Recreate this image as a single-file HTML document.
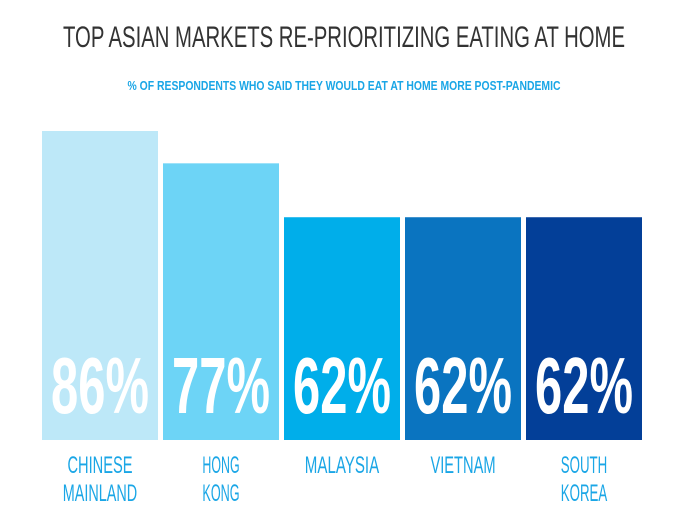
<!DOCTYPE html>
<html><head><meta charset="utf-8"><style>
body{margin:0;background:#fff;}
svg{display:block;font-family:"Liberation Sans",sans-serif;}
</style></head><body>
<svg id="chart" width="680" height="517" viewBox="0 0 680 517">
<text x="344" y="47" text-anchor="middle" font-size="30" fill="#333" textLength="562" lengthAdjust="spacingAndGlyphs">TOP ASIAN MARKETS RE-PRIORITIZING EATING AT HOME</text>
<text x="344" y="90" text-anchor="middle" font-size="13" font-weight="bold" fill="#1aa6e6" textLength="433" lengthAdjust="spacingAndGlyphs">% OF RESPONDENTS WHO SAID THEY WOULD EAT AT HOME MORE POST-PANDEMIC</text>
<g id="bars"></g>
</svg>
<script>
const categories = [["CHINESE","MAINLAND"],["HONG","KONG"],["MALAYSIA"],["VIETNAM"],["SOUTH","KOREA"]];
const values = [86, 77, 62, 62, 62];
const valueLabels = ["86%","77%","62%","62%","62%"];
const colors = ["#bde8f8","#6dd4f6","#00aeea","#0a74c0","#033f98"];
const ns="http://www.w3.org/2000/svg";
const g=document.getElementById('bars');
const baseY=440, x0=42, bw=116, step=121;
const yScale=v=>v*309/86;
values.forEach((v,i)=>{
  const x=x0+i*step, h=yScale(v);
  const r=document.createElementNS(ns,'rect');
  
  
  r.setAttribute('x',x);r.setAttribute('y',baseY-h);r.setAttribute('width',bw);r.setAttribute('height',h);r.setAttribute('fill',colors[i]);
  g.appendChild(r);
  const t=document.createElementNS(ns,'text');
  
  
  t.setAttribute('x',x+bw/2);t.setAttribute('y',413);t.setAttribute('text-anchor','middle');
  t.setAttribute('font-size','80');t.setAttribute('font-weight','bold');t.setAttribute('fill','#fff');
  t.setAttribute('textLength','98');t.setAttribute('lengthAdjust','spacingAndGlyphs');
  t.textContent=valueLabels[i];g.appendChild(t);
  categories[i].forEach((line,j)=>{
    const c=document.createElementNS(ns,'text');
    
    
    c.setAttribute('x',x+bw/2);c.setAttribute('y',473+j*28);c.setAttribute('text-anchor','middle');
    c.setAttribute('font-size','24');c.setAttribute('fill','#1aa6e6');
    c.setAttribute('textLength',line.length*9.3);c.setAttribute('lengthAdjust','spacingAndGlyphs');
    c.textContent=line;g.appendChild(c);
  });
});
</script>
</body></html>
